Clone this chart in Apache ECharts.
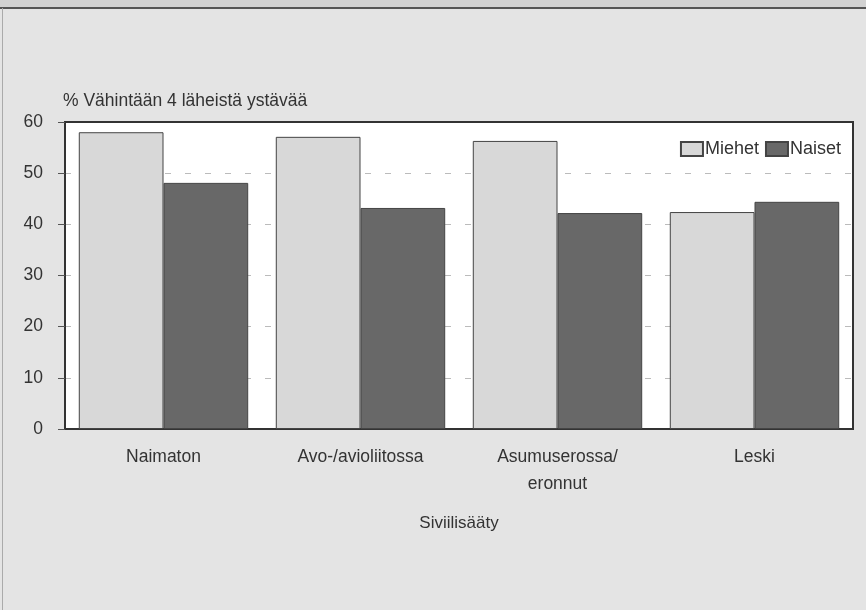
<!DOCTYPE html>
<html><head><meta charset="utf-8">
<script src="https://cdn.jsdelivr.net/npm/echarts@6/dist/echarts.min.js"></script>
<style>html,body{margin:0;padding:0;background:#e4e4e4;}#c{width:866px;height:610px;}</style>
</head><body><div id="c"></div>
<script>
const categories = ['Naimaton', 'Avo-/avioliitossa', 'Asumuserossa/\neronnut', 'Leski'];
const miehet = [58.0, 57.1, 56.3, 42.4];
const naiset = [48.1, 43.2, 42.2, 44.4];
const seriesNames = ['Miehet', 'Naiset'];
const yTicks = [0, 10, 20, 30, 40, 50, 60];

const chart = echarts.init(document.getElementById('c'), null, {renderer: 'canvas'});
const font = 'Liberation Sans, Arial, Helvetica, sans-serif';
chart.setOption({
  backgroundColor: '#e4e4e4',
  animation: false,
  textStyle: {fontFamily: font},
  graphic: [
    {type: 'rect', shape: {x: 0, y: 0, width: 866, height: 7}, style: {fill: '#d2d2d2'}, silent: true},
    {type: 'line', shape: {x1: 0, y1: 8, x2: 866, y2: 8}, style: {stroke: '#555', lineWidth: 2}, silent: true},
    {type: 'line', shape: {x1: 2.5, y1: 8, x2: 2.5, y2: 610}, style: {stroke: '#aaa', lineWidth: 1}, silent: true}
  ],
  grid: {left: 65, right: 13, top: 122, bottom: 181, show: true, backgroundColor: '#ffffff', borderColor: '#333', borderWidth: 2},
  legend: {
    right: 20, top: 135, itemWidth: 22, itemHeight: 14, itemGap: 6, icon: 'rect',
    textStyle: {fontSize: 18, color: '#333', fontFamily: font, padding: [0, 0, 0, -3]},
    data: seriesNames
  },
  xAxis: {
    type: 'category', data: categories,
    name: 'Siviilisääty', nameLocation: 'middle', nameGap: 86,
    nameTextStyle: {fontSize: 17, color: '#333'},
    axisLine: {lineStyle: {color: '#333', width: 2}},
    axisTick: {show: false},
    axisLabel: {fontSize: 17.5, color: '#333', margin: 15, lineHeight: 27}
  },
  yAxis: {
    type: 'value', min: 0, max: 60, interval: 10,
    name: '% Vähintään 4 läheistä ystävää', nameLocation: 'end', nameGap: 12,
    nameTextStyle: {fontSize: 17.5, color: '#333', align: 'left', padding: [0, 0, 0, -2]},
    axisLine: {show: true, lineStyle: {color: '#333', width: 2}},
    axisTick: {show: true, inside: false, length: 7, lineStyle: {color: '#555'}},
    axisLabel: {fontSize: 17.5, color: '#333', margin: 22},
    splitLine: {show: true, lineStyle: {color: ['#bbb', '#bbb', '#bbb', '#bbb', '#bbb', '#bbb', '#333'], type: [6, 14], width: 1}}
  },
  series: [
    {name: seriesNames[0], type: 'bar', data: miehet, barGap: '0%', barCategoryGap: '14%',
     itemStyle: {color: '#d8d8d8', borderColor: '#444', borderWidth: 1}},
    {name: seriesNames[1], type: 'bar', data: naiset,
     itemStyle: {color: '#686868', borderColor: '#444', borderWidth: 1}}
  ]
});
</script></body></html>
